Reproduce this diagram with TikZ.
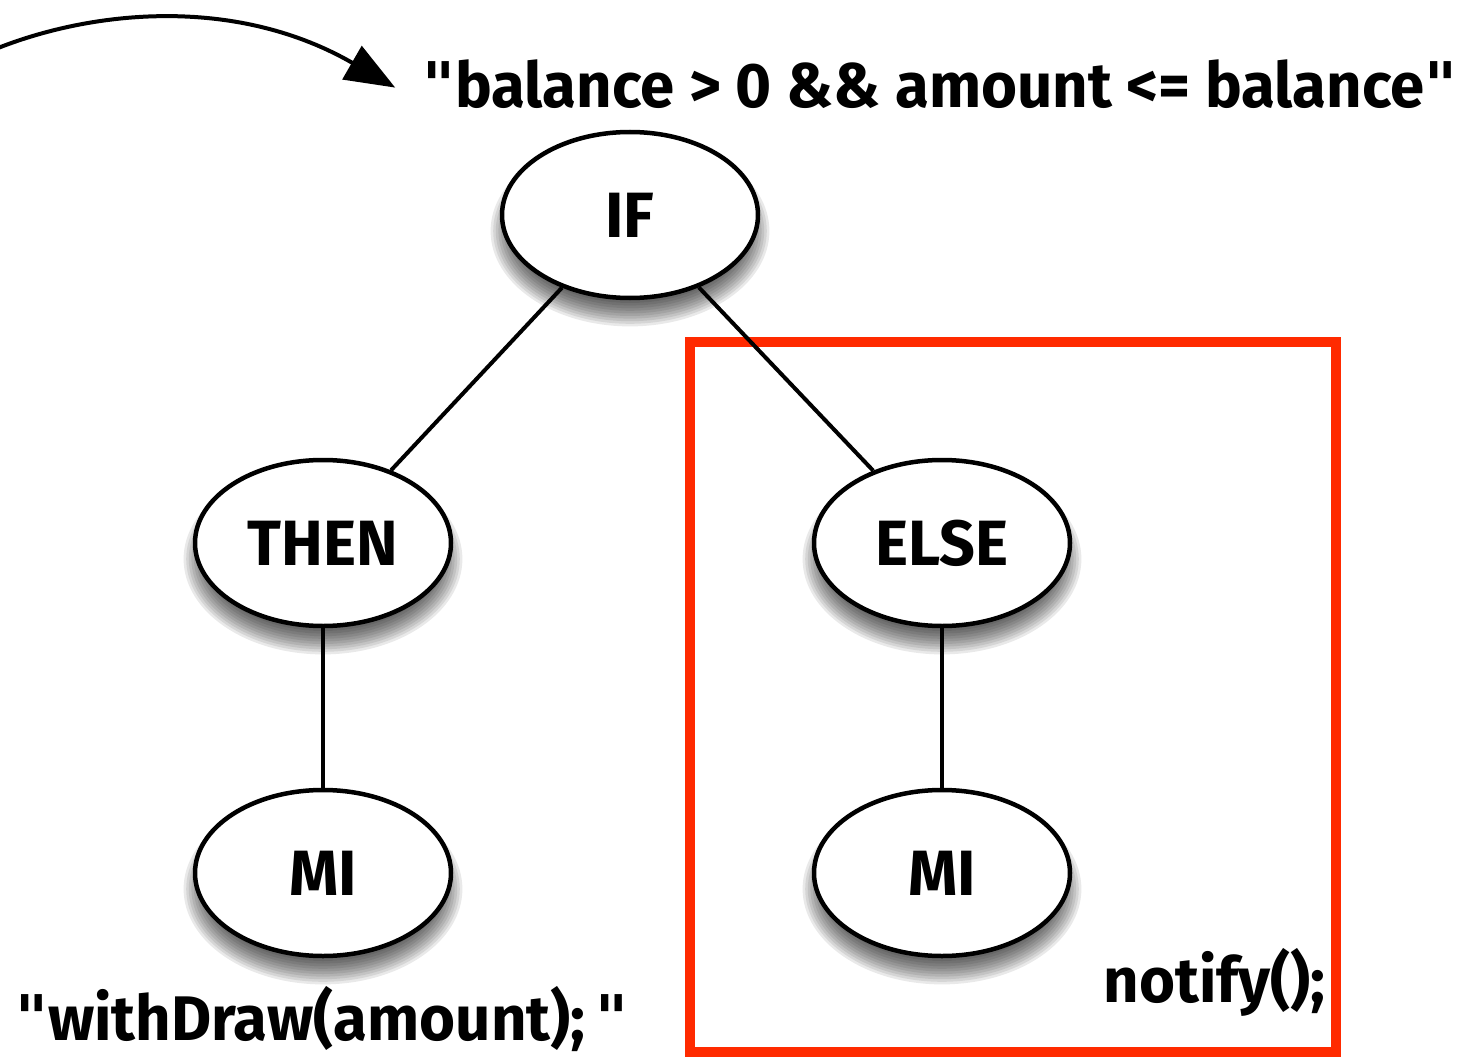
\documentclass[tikz,border=0pt]{standalone}
\usepackage{fontspec}
\setmainfont[FakeStretch=0.98]{Fira Sans}
\newfontfamily\quotefont{DejaVu Sans}
\usetikzlibrary{shapes.geometric,arrows.meta,backgrounds}

\definecolor{boxred}{RGB}{255,42,0}
\newcommand{\dq}{{\quotefont\bfseries\symbol{34}}}

\tikzset{
  tnode/.style={ellipse, draw, line width=4.5pt, fill=white, minimum width=256pt,
    minimum height=166pt, inner sep=0pt, font=\fontsize{64}{70}\selectfont\bfseries},
  code/.style={inner sep=0pt, font=\fontsize{63}{70}\selectfont\bfseries},
  link/.style={line width=4pt}
}

\begin{document}
\begin{tikzpicture}[x=1pt,y=-1pt]
\useasboundingbox (0,0) rectangle (1476,1062);

%tree nodes
\node[tnode] (if) at (630,215) {IF};
\node[tnode] (then) at (323,543) {THEN};
\node[tnode] (else) at (942,543) {ELSE};
\node[tnode] (mia) at (323,873) {MI};
\node[tnode] (mib) at (942,873) {MI};

%labels
\node[code, anchor=base] (cond) at (940,108) {\dq balance > 0 \&\& amount <= balance\dq};
\node[code, anchor=base] (act) at (322,1040) {\dq withDraw(amount);\,\dq};
\node[code, anchor=base east] (note) at (1326,1002) {notify();};
\coordinate (from) at (-2,48);

%soft shadows
\begin{scope}[on background layer]
\foreach \n in {if,then,else,mia,mib}
  \foreach \k in {0,...,9}
    \fill[black, opacity=0.085] ([yshift=-16pt]\n.center) ellipse ({116+2.6*\k} and {72+2.6*\k});
\end{scope}

%else branch box
\draw[boxred, line width=10pt] (690,342) rectangle (1336,1052);

%edges
\draw[link] (if) -- (then);
\draw[link] (if) -- (else);
\draw[link] (then) -- (mia);
\draw[link] (else) -- (mib);

%pointer to condition
\draw[line width=4pt, -{Triangle[length=50pt,width=38pt]}] (from) .. controls (100,8) and (240,-2) .. ([xshift=-27pt,yshift=-3pt]cond.west);
\end{tikzpicture}
\end{document}
